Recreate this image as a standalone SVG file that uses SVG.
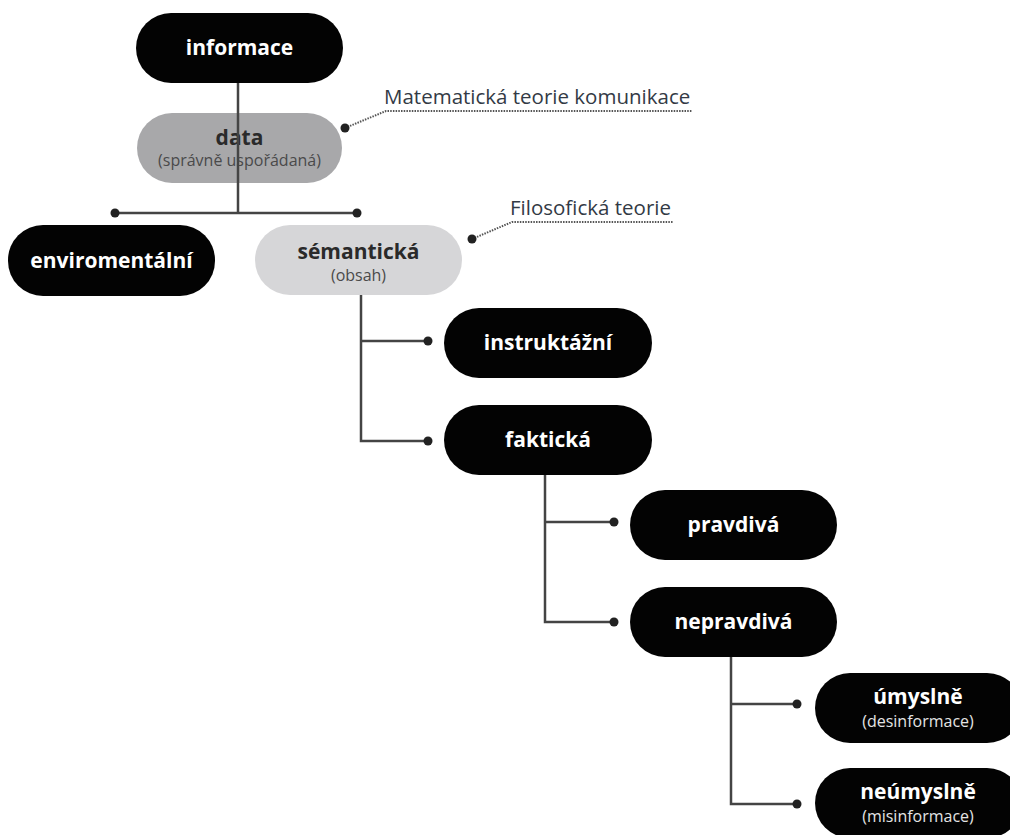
<svg xmlns="http://www.w3.org/2000/svg" width="1010" height="835" viewBox="0 0 1010 835">
<defs>
<style>
.pill{stroke:none}
.dark{fill:#030303}
.mid{fill:#a8a8aa}
.light{fill:#d6d6d8}
.t{font-family:"Open Sans",Lato,"Liberation Sans",sans-serif;font-weight:700;font-size:21px;text-anchor:middle}
.w{fill:#ffffff}
.k{fill:#2a2a2a}
.s{font-family:"Open Sans",Lato,"Liberation Sans",sans-serif;font-weight:400;font-size:16px;text-anchor:middle}
.sw{fill:#e4e4e4}
.sk{fill:#4a4a4a}
.con{stroke:#444444;stroke-width:2.5;fill:none}
.dot{fill:#222222}
.ann{font-family:"Open Sans",Lato,"Liberation Sans",sans-serif;font-size:20.5px;fill:#333a45}
.dl{stroke:#555555;stroke-width:2;stroke-dasharray:1.5 1.2;fill:none}
</style>
</defs>
<rect width="1010" height="835" fill="#ffffff"/>

<g id="n-informace"><rect class="pill dark" x="136" y="13" width="207" height="70" rx="35"/><text class="t w" x="239.5" y="55">informace</text></g>
<g id="n-data"><rect class="pill mid" x="137" y="113" width="205" height="70" rx="35"/><text class="t k" x="239.5" y="145">data</text><text class="s sk" x="239.5" y="166">(správně uspořádaná)</text></g>
<g id="n-enviromentalni"><rect class="pill dark" x="8" y="225" width="207" height="71" rx="35"/><text class="t w" x="111.5" y="268">enviromentální</text></g>
<g id="n-semanticka"><rect class="pill light" x="255" y="225" width="207" height="70" rx="35"/><text class="t k" x="358.5" y="259">sémantická</text><text class="s sk" x="358.5" y="281">(obsah)</text></g>
<g id="n-instruktazni"><rect class="pill dark" x="444" y="308" width="208" height="70" rx="35"/><text class="t w" x="548" y="350">instruktážní</text></g>
<g id="n-fakticka"><rect class="pill dark" x="444" y="405" width="208" height="70" rx="35"/><text class="t w" x="548" y="447">faktická</text></g>
<g id="n-pravdiva"><rect class="pill dark" x="630" y="490" width="207" height="70" rx="35"/><text class="t w" x="733.5" y="532">pravdivá</text></g>
<g id="n-nepravdiva"><rect class="pill dark" x="630" y="587" width="207" height="70" rx="35"/><text class="t w" x="733.5" y="629">nepravdivá</text></g>
<g id="n-umyslne"><rect class="pill dark" x="815" y="673" width="207" height="70" rx="35"/><text class="t w" x="918" y="704">úmyslně</text><text class="s sw" x="918" y="727">(desinformace)</text></g>
<g id="n-neumyslne"><rect class="pill dark" x="815" y="768" width="207" height="70" rx="35"/><text class="t w" x="918" y="799">neúmyslně</text><text class="s sw" x="918" y="822">(misinformace)</text></g>

<g id="connectors">
<path class="con" d="M238 83 V213 M115 213 H357"/>
<circle class="dot" cx="115" cy="213" r="4.5"/>
<circle class="dot" cx="357" cy="213" r="4.5"/>
<path class="con" d="M361 295 V441 H428 M361 341 H428"/>
<circle class="dot" cx="428" cy="341" r="4.5"/>
<circle class="dot" cx="428" cy="441" r="4.5"/>
<path class="con" d="M545 475 V622 H614 M545 522 H614"/>
<circle class="dot" cx="614" cy="522" r="4.5"/>
<circle class="dot" cx="614" cy="622" r="4.5"/>
<path class="con" d="M731 657 V804 H797 M731 704 H797"/>
<circle class="dot" cx="797" cy="704" r="4.5"/>
<circle class="dot" cx="797" cy="804" r="4.5"/>
</g>

<g id="annotations">
<text class="ann" x="384" y="104">Matematická teorie komunikace</text>
<path class="dl" d="M345 128 L386 111 H692"/>
<circle class="dot" cx="345" cy="128" r="4.5"/>
<text class="ann" x="510" y="215">Filosofická teorie</text>
<path class="dl" d="M472 239 L512 222 H673"/>
<circle class="dot" cx="472" cy="239" r="4.5"/>
</g>
</svg>
